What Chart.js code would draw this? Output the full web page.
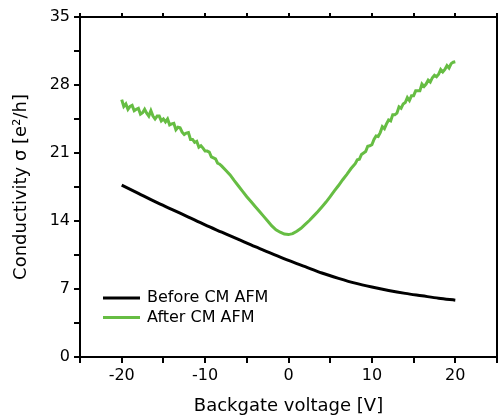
<!DOCTYPE html>
<html>
<head>
<meta charset="utf-8">
<script src="https://cdn.jsdelivr.net/npm/chart.js@4/dist/chart.umd.min.js"></script>
<style>
  html, body { margin: 0; padding: 0; background: #fff; }
  #wrap { width: 500px; height: 417px; }
</style>
</head>
<body>
<div id="wrap"><canvas id="condChart"></canvas></div>
<script>
// Before CM AFM (smooth)
const beforeVoltage = [-20, -18, -16, -14, -12, -10, -8, -6, -4, -2, 0, 2, 4, 6, 8, 10, 12, 14, 16, 18, 20];
const beforeValues = [17.7, 16.85, 16.0, 15.2, 14.4, 13.6, 12.85, 12.1, 11.35, 10.65, 9.95, 9.3, 8.65, 8.1, 7.6, 7.2, 6.85, 6.55, 6.3, 6.05, 5.85];

// After CM AFM (noisy trace; finer steps where the noise is visible)
const afterVoltage = [
    -20, -19.75, -19.5, -19.25, -19, -18.75, -18.5, -18.25, -18, -17.75,
    -17.5, -17.25, -17, -16.75, -16.5, -16.25, -16, -15.75, -15.5, -15.25,
    -15, -14.75, -14.5, -14.25, -14, -13.75, -13.5, -13.25, -13, -12.75,
    -12.5, -12.25, -12, -11.75, -11.5, -11.25, -11, -10.75, -10.5, -10.25,
    -10, -9.75, -9.5, -9.25, -9, -8.75, -8.5, -8.25, -8,
    -7.5, -7, -6.5, -6, -5.5, -5, -4.5, -4, -3.5, -3,
    -2.5, -2, -1.5, -1, -0.5, 0, 0.5, 1, 1.5, 2,
    2.5, 3, 3.5, 4, 4.5, 5, 5.5, 6, 6.5, 7, 7.5,
    8, 8.25, 8.5, 8.75, 9, 9.25, 9.5, 9.75, 10, 10.25,
    10.5, 10.75, 11, 11.25, 11.5, 11.75, 12, 12.25, 12.5, 12.75,
    13, 13.25, 13.5, 13.75, 14, 14.25, 14.5, 14.75, 15, 15.25,
    15.5, 15.75, 16, 16.25, 16.5, 16.75, 17, 17.25, 17.5, 17.75,
    18, 18.25, 18.5, 18.75, 19, 19.25, 19.5, 19.75, 20
];
const afterValues = [
    26.5, 25.8, 26.05, 25.5, 25.8, 25.9, 25.35, 25.5, 25.6, 25.0,
    25.15, 25.5, 25.1, 24.8, 25.35, 24.8, 24.5, 24.8, 24.8, 24.3,
    24.5, 24.2, 24.5, 23.9, 24.0, 24.05, 23.4, 23.65, 23.6, 23.15,
    22.9, 23.05, 23.1, 22.4, 22.4, 22.1, 22.2, 21.6, 21.75, 21.5,
    21.2, 21.2, 21.1, 20.6, 20.5, 20.4, 19.95, 19.85, 19.65,
    19.2, 18.75, 18.15, 17.6, 17.05, 16.5, 16.0, 15.5, 15.0, 14.5,
    14.0, 13.5, 13.1, 12.85, 12.65, 12.6, 12.7, 12.95, 13.25, 13.65,
    14.05, 14.5, 14.95, 15.45, 15.95, 16.5, 17.1, 17.65, 18.25, 18.8, 19.4,
    19.9, 20.3, 20.35, 20.85, 21.0, 21.15, 21.7, 21.75, 21.85, 22.4,
    22.75, 22.7, 23.1, 23.7, 23.5, 24.0, 24.4, 24.3, 24.95, 24.95,
    25.1, 25.75, 25.6, 26.05, 26.2, 26.7, 26.4, 26.9, 26.9, 27.4,
    27.4, 27.4, 28.1, 27.85, 28.1, 28.5, 28.3, 28.75, 29.0, 28.85,
    29.1, 29.6, 29.35, 29.6, 30.0, 29.75, 30.2, 30.35, 30.4
];

const xTicks = [-20, -10, 0, 10, 20];
const yTicks = [0, 7, 14, 21, 28, 35];

const FONT = 'DejaVu Sans';

const toPoints = (xs, ys) => xs.map((x, i) => ({ x, y: ys[i] }));

// Frame around the plot and the legend inside it
const framePlugin = {
    id: 'frame',
    afterDraw(chart) {
        const { ctx, chartArea: a } = chart;
        ctx.save();
        ctx.strokeStyle = '#000';
        ctx.lineWidth = 2;
        ctx.strokeRect(a.left, a.top, a.right - a.left, a.bottom - a.top);

        // legend
        ctx.font = `16px "${FONT}"`;
        ctx.textBaseline = 'middle';
        ctx.fillStyle = '#000';
        chart.data.datasets.forEach((ds, i) => {
            const y = a.top + 281 + i * 19.5;
            ctx.strokeStyle = ds.borderColor;
            ctx.lineWidth = 3;
            ctx.beginPath();
            ctx.moveTo(a.left + 23, y);
            ctx.lineTo(a.left + 60, y);
            ctx.stroke();
            ctx.fillText(ds.label, a.left + 67, y);
        });
        ctx.restore();
    }
};

const ctx = document.getElementById('condChart').getContext('2d');
new Chart(ctx, {
    type: 'line',
    data: {
        datasets: [{
            label: 'Before CM AFM',
            data: toPoints(beforeVoltage, beforeValues),
            borderColor: '#000000',
            borderWidth: 3,
            pointRadius: 0,
            cubicInterpolationMode: 'monotone',
            fill: false
        }, {
            label: 'After CM AFM',
            data: toPoints(afterVoltage, afterValues),
            borderColor: '#66bd43',
            borderWidth: 3,
            pointRadius: 0,
            tension: 0,
            fill: false
        }]
    },
    options: {
        responsive: true,
        maintainAspectRatio: false,
        animation: false,
        layout: {
            padding: { left: 0, right: 1, top: 0, bottom: 0 }
        },
        scales: {
            x: {
                type: 'linear',
                position: 'bottom',
                min: -25,
                max: 25,
                afterFit: s => { s.height = 60; },
                ticks: {
                    stepSize: 5,
                    padding: 3,
                    color: '#000',
                    font: { family: FONT, size: 16 },
                    maxRotation: 0,
                    callback: v => xTicks.includes(v) ? v : ''
                },
                grid: {
                    drawOnChartArea: false,
                    drawTicks: true,
                    tickLength: 6,
                    color: '#000',
                    lineWidth: 2
                },
                border: { color: '#000', width: 2 },
                title: {
                    display: true,
                    text: 'Backgate voltage [V]',
                    color: '#000',
                    font: { family: FONT, size: 18 },
                    padding: { top: 0, bottom: 0 }
                }
            },
            xTop: {
                type: 'linear',
                position: 'top',
                min: -25,
                max: 25,
                afterFit: s => { s.height = 17; },
                ticks: { display: false, stepSize: 5 },
                grid: {
                    drawOnChartArea: false,
                    drawTicks: true,
                    tickLength: 4,
                    color: '#000',
                    lineWidth: 2
                },
                border: { color: '#000', width: 2 }
            },
            y: {
                type: 'linear',
                min: 0,
                max: 35,
                afterFit: s => { s.width = 80; },
                ticks: {
                    stepSize: 3.5,
                    padding: 4,
                    color: '#000',
                    font: { family: FONT, size: 16 },
                    callback: v => yTicks.some(t => Math.abs(t - v) < 1e-6) ? v : ''
                },
                grid: {
                    drawOnChartArea: false,
                    drawTicks: true,
                    tickLength: 6,
                    color: '#000',
                    lineWidth: 2
                },
                border: { color: '#000', width: 2 },
                title: {
                    display: true,
                    text: 'Conductivity σ [e²/h]',
                    color: '#000',
                    font: { family: FONT, size: 18 },
                    padding: { top: 11, bottom: 0 }
                }
            }
        },
        plugins: {
            legend: { display: false },
            tooltip: { enabled: false }
        }
    },
    plugins: [framePlugin]
});
</script>
</body>
</html>
